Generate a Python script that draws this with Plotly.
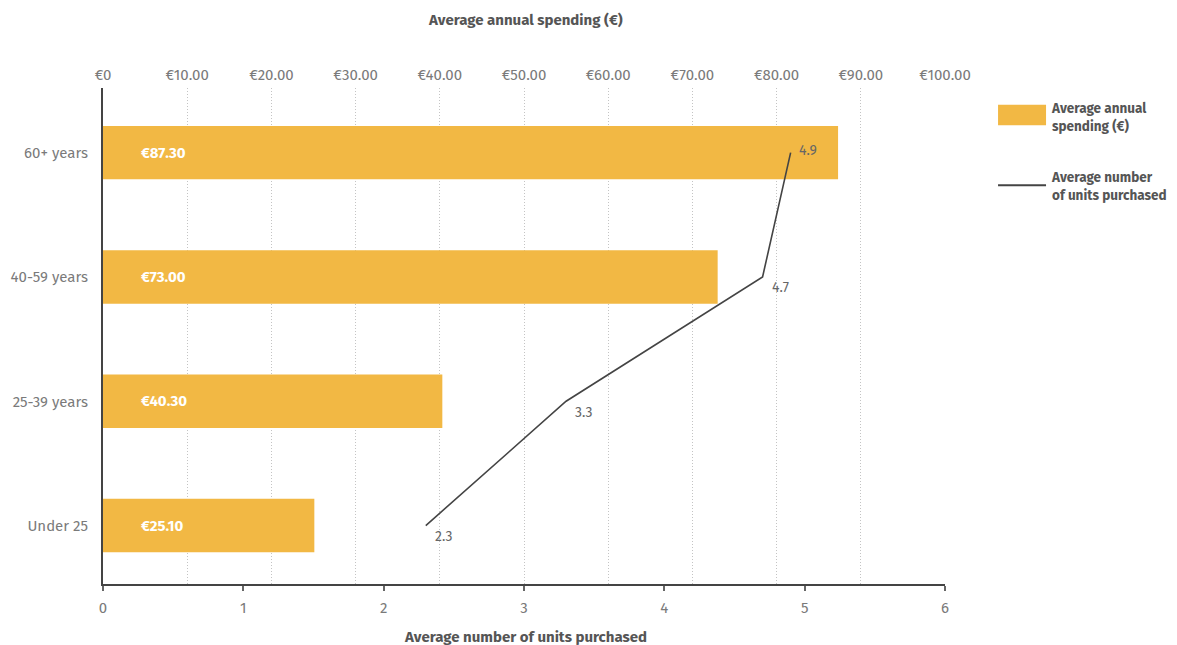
import plotly.graph_objects as go

categories = ["Under 25", "25-39 years", "40-59 years", "60+ years"]
spending = [25.10, 40.30, 73.00, 87.30]
units = [2.3, 3.3, 4.7, 4.9]
spend_ticks = [0, 10, 20, 30, 40, 50, 60, 70, 80, 90, 100]
spend_tick_labels = ["€0"] + [f"€{v:.2f}" for v in spend_ticks[1:]]
unit_ticks = [0, 1, 2, 3, 4, 5, 6]

FONT = "Fira Sans, Lato, Noto Sans, sans-serif"
BAR = "#F2B844"
LINE = "#444444"
TICK = "#7A7A7A"
TITLE = "#555555"

fig = go.Figure()

# bars on primary x (top, euros)
fig.add_trace(go.Bar(
    y=categories, x=spending, orientation="h", xaxis="x", yaxis="y",
    marker=dict(color=BAR, line=dict(width=0)),
    width=0.43, showlegend=False, hoverinfo="skip",
))

# line on overlaying x2 (bottom, units) so it is drawn above the bars
fig.add_trace(go.Scatter(
    y=categories, x=units, xaxis="x2", yaxis="y", mode="lines",
    line=dict(color=LINE, width=1.6),
    showlegend=False, hoverinfo="skip", cliponaxis=False,
))

# line value labels
for i, (c, v) in enumerate(zip(categories, units)):
    last = i == len(units) - 1
    fig.add_annotation(
        x=v, y=c, xref="x2", yref="y", text=f"{v}",
        showarrow=False, xanchor="left", yanchor="middle",
        xshift=6 if last else 7, yshift=2 if last else -11,
        font=dict(family=FONT, size=14, color="#666666"),
    )

# bar value labels
for c, v in zip(categories, spending):
    fig.add_annotation(
        x=0, y=c, xref="x", yref="y", text=f"<b>€{v:.2f}</b>",
        showarrow=False, xanchor="left", xshift=36,
        font=dict(family=FONT, size=15, color="white"),
    )

fig.update_layout(
    width=1169, height=637,
    margin=dict(l=95, r=232, t=80, b=61),
    paper_bgcolor="white", plot_bgcolor="white",
    font=dict(family=FONT, color=TICK),
    xaxis=dict(
        range=[0, 100], tickvals=spend_ticks, ticktext=spend_tick_labels,
        side="top", automargin=False,
        showgrid=True, gridcolor="#C4C4C4", griddash="1px,2px", gridwidth=1,
        zeroline=False, showline=False, ticks="", ticklabelstandoff=4,
        tickfont=dict(family=FONT, size=15, color=TICK),
    ),
    xaxis2=dict(
        range=[0, 6], tickvals=unit_ticks, side="bottom", overlaying="x",
        automargin=False,
        showgrid=False, zeroline=False,
        showline=True, linecolor="#444444", linewidth=2,
        ticks="outside", ticklen=5, tickcolor="#666666", tickwidth=1.5,
        ticklabelstandoff=4,
        tickfont=dict(family=FONT, size=15, color=TICK),
    ),
    yaxis=dict(
        categoryorder="array", categoryarray=categories,
        range=[-0.47, 3.52], automargin=False,
        showgrid=False, zeroline=False,
        showline=True, linecolor="#444444", linewidth=2,
        ticks="", ticklabelstandoff=10,
        tickfont=dict(family=FONT, size=15, color=TICK),
    ),
)

# axis titles
fig.add_annotation(xref="paper", yref="paper", x=0.502, y=1.137,
                   text="<b>Average annual spending (€)</b>", showarrow=False,
                   xanchor="center", yanchor="middle",
                   font=dict(family=FONT, size=15, color=TITLE))
fig.add_annotation(xref="paper", yref="paper", x=0.502, y=-0.107,
                   text="<b>Average number of units purchased</b>", showarrow=False,
                   xanchor="center", yanchor="middle",
                   font=dict(family=FONT, size=15, color=TITLE))

# custom legend
fig.add_shape(type="rect", xref="paper", yref="paper",
              x0=1.063, x1=1.120, y0=0.966, y1=0.925,
              fillcolor=BAR, line=dict(width=0))
fig.add_annotation(xref="paper", yref="paper", x=1.124, y=0.941,
                   text="<b>Average annual<br>spending (€)</b>", showarrow=False,
                   xanchor="left", yanchor="middle", align="left",
                   font=dict(family=FONT, size=13.5, color=TITLE))
fig.add_shape(type="line", xref="paper", yref="paper",
              x0=1.063, x1=1.120, y0=0.804, y1=0.804,
              line=dict(color=LINE, width=2))
fig.add_annotation(xref="paper", yref="paper", x=1.124, y=0.802,
                   text="<b>Average number<br>of units purchased</b>", showarrow=False,
                   xanchor="left", yanchor="middle", align="left",
                   font=dict(family=FONT, size=13.5, color=TITLE))

fig.write_html("out.html")
